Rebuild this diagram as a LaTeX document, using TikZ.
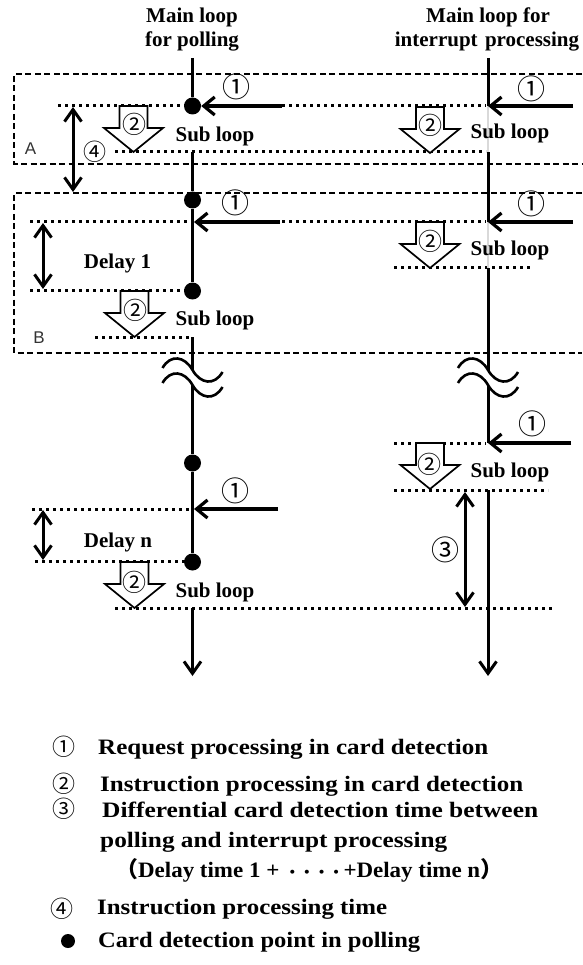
\documentclass[tikz,border=0pt]{standalone}
\usepackage{fontspec}
\setmainfont{Liberation Serif}
\setsansfont{Liberation Sans}
\newfontfamily\cjk{Noto Sans CJK JP}
\usetikzlibrary{arrows.meta}
\begin{document}
\begin{tikzpicture}[x=1pt,y=-1pt,
  mainln/.style={line width=3pt},
  faint/.style={line width=1.8pt, black!15},
  dotln/.style={line width=3pt, dash pattern=on 3.2pt off 3.8pt},
  boxln/.style={line width=1.3pt, dash pattern=on 6pt off 3.5pt},
  reqarr/.style={line width=3.2pt, -{Straight Barb[length=11pt,width=18pt]}},
  dblarr/.style={line width=3pt, {Straight Barb[length=12pt,width=17pt]}-{Straight Barb[length=12pt,width=17pt]}},
  endarr/.style={line width=3pt, -{Straight Barb[length=12pt,width=17pt]}},
  dotnode/.style={circle, fill=black, inner sep=0pt, minimum size=17pt},
  lbl/.style={font=\fontsize{21}{24}\selectfont\bfseries, inner sep=0pt, anchor=base},
  circ/.style={font=\cjk\fontsize{28}{28}\selectfont, inner sep=0pt},
  circs/.style={font=\cjk\fontsize{24}{24}\selectfont, inner sep=0pt},
  circl/.style={font=\cjk\fontsize{23}{23}\selectfont, inner sep=0pt},
  lgd/.style={font=\fontsize{22}{24}\selectfont\bfseries, inner sep=0pt, anchor=base west},
  wave/.style={line width=2.6pt},
  blockarr/.pic={\draw[line width=1.7pt, fill=white, line join=miter]
     (-14,0) -- (14,0) -- (14,22) -- (29.5,22) -- (0,46) -- (-29.5,22) -- (-14,22) -- cycle;}
]
\useasboundingbox (0,0) rectangle (582,965);

% dashed boxes
\draw[boxln] (582,74) -- (14,74) -- (14,164) -- (582,164);
\draw[boxln] (582,193) -- (14,193) -- (14,353) -- (582,353);
\node[font=\sffamily\fontsize{17}{17}\selectfont, text=black!80, inner sep=0pt, anchor=base] (lA) at (30.5,155) {A};
\node[font=\sffamily\fontsize{17}{17}\selectfont, text=black!80, inner sep=0pt, anchor=base] (lB) at (39,343) {B};

% dotted lines
\draw[dotln] (58,106) -- (486,106);
\draw[dotln] (115,152) -- (486,152);
\draw[dotln] (30,222) -- (486,222);
\draw[dotln] (30,290) -- (186,290);
\draw[dotln] (95,337) -- (190,337);
\draw[dotln] (394,268) -- (531,268);
\draw[dotln] (394,443) -- (486,443);
\draw[dotln] (394,490) -- (548,490);
\draw[dotln] (32,509) -- (190,509);
\draw[dotln] (35,561) -- (186,561);
\draw[dotln] (115,608) -- (553,608);

% coordinates
\coordinate (tl) at (192.5,58);
\coordinate (s1) at (192.5,152);
\coordinate (s2) at (192.5,337);
\coordinate (s3) at (192.5,608);
\coordinate (endL) at (192.5,676);
\coordinate (v2) at (194,222);
\coordinate (v3) at (194,509);
\coordinate (tr) at (488,58);
\coordinate (ra1) at (488,106);
\coordinate (rs1) at (488,152);
\coordinate (ra2) at (488,222);
\coordinate (rs2) at (488,268);
\coordinate (ra3) at (488,443);
\coordinate (rs3) at (488,490);
\coordinate (endR) at (488,676);

% dots
\node[dotnode] (d1) at (192.5,106) {};
\node[dotnode] (d2) at (192.5,200) {};
\node[dotnode] (d3) at (192.5,291) {};
\node[dotnode] (d4) at (192.5,463) {};
\node[dotnode] (d5) at (192.5,562) {};

% main lines (left)
\draw[mainln] (tl) -- (d1);
\draw[mainln] (s1) -- (d2) -- (d3);
\draw[mainln] (s2) -- (d4) -- (d5);
\draw[endarr] (s3) -- (endL);
% main lines (right)
\draw[mainln] (tr) -- (ra1);
\draw[faint] (ra1) -- (rs1);
\draw[mainln] (rs1) -- (ra2);
\draw[faint] (ra2) -- (rs2);
\draw[mainln] (rs2) -- (ra3);
\draw[endarr] (rs3) -- (endR);

% break marks
\foreach \c in {192.5,488}{
  \fill[white] (\c-30,368) .. controls (\c-22,354) and (\c-8,356) .. (\c,370) .. controls (\c+8,384) and (\c+22,386) .. (\c+30,372)
     -- (\c+30,387) .. controls (\c+22,401) and (\c+8,399) .. (\c,385) .. controls (\c-8,371) and (\c-22,369) .. (\c-30,383) -- cycle;
  \draw[wave] (\c-30,368) .. controls (\c-22,354) and (\c-8,356) .. (\c,370) .. controls (\c+8,384) and (\c+22,386) .. (\c+30,372);
  \draw[wave] (\c-30,383) .. controls (\c-22,369) and (\c-8,371) .. (\c,385) .. controls (\c+8,399) and (\c+22,401) .. (\c+30,387);
}

% block arrows (instruction processing)
\pic at (133.5,106) {blockarr};
\pic at (134.5,291) {blockarr};
\pic at (134.5,562) {blockarr};
\pic at (430,107) {blockarr};
\pic at (430,222) {blockarr};
\pic at (430,443) {blockarr};
\node[circs] (c2a) at (134,124) {②};
\node[circs] (c2b) at (135,310) {②};
\node[circs] (c2c) at (134,582) {②};
\node[circs] (c2d) at (430,125) {②};
\node[circs] (c2e) at (430,241) {②};
\node[circs] (c2f) at (429,464) {②};

% request arrows
\coordinate (q1) at (282,106);
\coordinate (q2) at (280,222);
\coordinate (q3) at (278,509);
\coordinate (q4) at (573,106);
\coordinate (q5) at (573,222);
\coordinate (q6) at (571,443);
\draw[reqarr] (q1) -- (d1);
\draw[reqarr] (q2) -- (v2);
\draw[reqarr] (q3) -- (v3);
\draw[reqarr] (q4) -- (ra1);
\draw[reqarr] (q5) -- (ra2);
\draw[reqarr] (q6) -- (ra3);
\node[circ] (c1a) at (236,87) {①};
\node[circ] (c1b) at (235,203) {①};
\node[circ] (c1c) at (235,491) {①};
\node[circ] (c1d) at (531,89) {①};
\node[circ] (c1e) at (531,204) {①};
\node[circ] (c1f) at (532,424) {①};

% double arrows
\coordinate (m1) at (73,107);
\coordinate (m2) at (73,192);
\coordinate (m3) at (43,223);
\coordinate (m4) at (43,289);
\coordinate (m5) at (43,510);
\coordinate (m6) at (43,560);
\coordinate (m7) at (465,492);
\coordinate (m8) at (465,607);
\draw[dblarr] (m1) -- (m2);
\draw[dblarr] (m3) -- (m4);
\draw[dblarr] (m5) -- (m6);
\draw[dblarr] (m7) -- (m8);
\node[circl] (c4) at (95,152) {④};
\node[circ] (c3) at (445,550) {③};

% labels
\node[lbl] (t1) at (192,23) {Main loop};
\node[lbl] (t2) at (192,47) {for polling};
\node[lbl] (t3) at (488,23) {Main loop for};
\node[lbl] (t4) at (487,47) {interrupt\hspace{0.35em}processing};
\node[lbl] (sl1) at (215,142) {Sub loop};
\node[lbl] (sl2) at (510,139) {Sub loop};
\node[lbl] (sl3) at (215,325) {Sub loop};
\node[lbl] (sl4) at (510,256) {Sub loop};
\node[lbl] (sl5) at (215,597) {Sub loop};
\node[lbl] (sl6) at (510,477) {Sub loop};
\node[lbl] (dl1) at (117.5,269) {Delay 1};
\node[lbl] (dl2) at (118,547) {Delay n};

% legend
\node[circl] (k1) at (64,747) {①};
\node[circl] (k2) at (64,784) {②};
\node[circl] (k3) at (64,809) {③};
\node[circl] (k4) at (62,909) {④};
\node[circle, fill=black, inner sep=0pt, minimum size=14pt] (k5) at (68,941) {};
\node[lgd] (g1) at (98,754) {\resizebox{390pt}{\height}{Request processing in card detection}};
\node[lgd] (g2) at (100,791) {\resizebox{423pt}{\height}{Instruction processing in card detection}};
\node[lgd] (g3) at (102,817) {\resizebox{436pt}{\height}{Differential card detection time between}};
\node[lgd] (g4) at (100,847) {\resizebox{347pt}{\height}{polling and interrupt processing}};
\node[lgd] (g5) at (115,877) {\resizebox{388pt}{\height}{{\cjk （}Delay time 1 + {\cjk\fontsize{14}{14}\selectfont ・・・・}+Delay time n{\cjk ）}}};
\node[lgd] (g6) at (97,914) {\resizebox{290pt}{\height}{Instruction processing time}};
\node[lgd] (g7) at (98,947) {\resizebox{322pt}{\height}{Card detection point in polling}};
\end{tikzpicture}
\end{document}
